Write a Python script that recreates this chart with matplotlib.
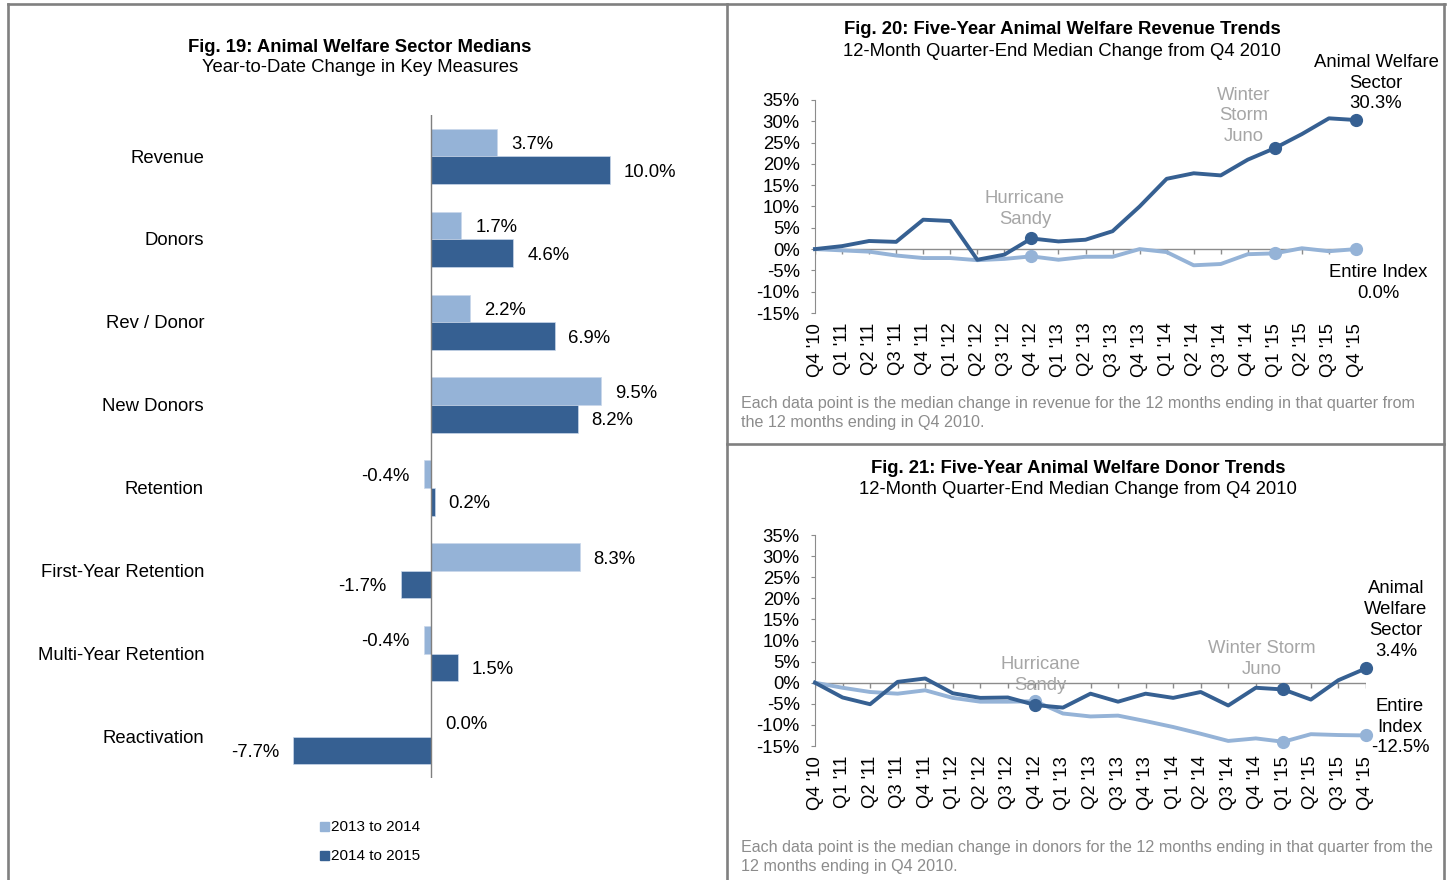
import matplotlib.pyplot as plt
from matplotlib.lines import Line2D
from matplotlib.patches import Rectangle
from matplotlib.transforms import blended_transform_factory

plt.rcParams['font.family'] = ['Liberation Sans', 'DejaVu Sans']

W, H = 1448, 880
FS = 13.3

# Fig. 19 data
measures = ['Revenue', 'Donors', 'Rev / Donor', 'New Donors', 'Retention',
            'First-Year Retention', 'Multi-Year Retention', 'Reactivation']
chg_2013_2014 = [3.7, 1.7, 2.2, 9.5, -0.4, 8.3, -0.4, 0.0]
chg_2014_2015 = [10.0, 4.6, 6.9, 8.2, 0.2, -1.7, 1.5, -7.7]
series_names = ['2013 to 2014', '2014 to 2015']

# Fig. 20 / 21 data
quarters = ["Q4 '10", "Q1 '11", "Q2 '11", "Q3 '11", "Q4 '11", "Q1 '12", "Q2 '12",
            "Q3 '12", "Q4 '12", "Q1 '13", "Q2 '13", "Q3 '13", "Q4 '13", "Q1 '14",
            "Q2 '14", "Q3 '14", "Q4 '14", "Q1 '15", "Q2 '15", "Q3 '15", "Q4 '15"]
rev_sector = [0, 0.7, 1.9, 1.7, 6.9, 6.6, -2.5, -1.3, 2.5, 1.8, 2.2, 4.2, 10.0,
              16.5, 17.8, 17.3, 21.0, 23.7, 27.0, 30.7, 30.3]
rev_index = [0, -0.3, -0.6, -1.5, -2.1, -2.1, -2.6, -2.3, -1.7, -2.5, -1.8, -1.8,
             0.0, -0.7, -3.8, -3.5, -1.2, -1.0, 0.2, -0.5, 0.0]
don_sector = [0, -3.5, -5.1, 0.2, 1.0, -2.5, -3.6, -3.5, -5.3, -5.9, -2.6, -4.5,
              -2.6, -3.6, -2.2, -5.4, -1.2, -1.6, -4.0, 0.6, 3.4]
don_index = [0, -1.2, -2.2, -2.6, -1.8, -3.6, -4.5, -4.5, -4.4, -7.3, -8.0, -7.8,
             -9.1, -10.5, -12.1, -13.8, -13.2, -14.0, -12.2, -12.4, -12.5]
marked = [8, 17, 20]   # Q4 '12, Q1 '15, Q4 '15

DARK = '#366092'
LIGHT = '#95B3D7'
GRAY_TXT = '#A6A6A6'
NOTE = '#8C8C8C'
BORDER = '#808080'


def rect(x0, y0, x1, y1):
    return [x0 / W, 1 - y1 / H, (x1 - x0) / W, (y1 - y0) / H]


def fx(x):
    return x / W


def fy(y):
    return 1 - y / H


fig = plt.figure(figsize=(W / 100, H / 100), dpi=100)

# panel borders
for xs, ys in [((8, 1445), (4, 4)), ((8, 8), (4, 880)), ((727, 727), (4, 880)),
               ((1444, 1444), (4, 880)), ((727, 1444), (444, 444))]:
    fig.add_artist(Line2D([fx(v) for v in xs], [fy(v) for v in ys],
                          color=BORDER, lw=1.9))

# ---------------- Fig. 19 ----------------
ax = fig.add_axes(rect(252, 115, 699.5, 778))
n = len(measures)
pos = list(range(n))
bh = 0.333
ax.barh([p - bh / 2 for p in pos], chg_2013_2014, height=bh, color=LIGHT,
        edgecolor='#C9D7EA', linewidth=0.5)
ax.barh([p + bh / 2 for p in pos], chg_2014_2015, height=bh, color=DARK,
        edgecolor='#C9D7EA', linewidth=0.5)
ax.set_xlim(-10, 15)
ax.set_ylim(n - 0.5, -0.5)
ax.axvline(0, color='#7F7F7F', lw=1)
ax.axis('off')

for vals, off in [(chg_2013_2014, -bh / 2), (chg_2014_2015, bh / 2)]:
    for p, v in zip(pos, vals):
        neg = v < 0
        ax.annotate(f'{v:.1f}%', (v, p + off), xytext=(-10 if neg else 10, -1.5),
                    textcoords='offset points', ha='right' if neg else 'left',
                    va='center', fontsize=FS)

lab_tr = blended_transform_factory(fig.transFigure, ax.transData)
for p, m in zip(pos, measures):
    ax.text(fx(204), p + 0.02, m, transform=lab_tr, ha='right', va='center',
            fontsize=FS)

fig.text(fx(360), fy(47), 'Fig. 19: Animal Welfare Sector Medians',
         ha='center', va='center', fontsize=FS, fontweight='bold')
fig.text(fx(360), fy(68), 'Year-to-Date Change in Key Measures',
         ha='center', va='center', fontsize=FS)

for yy, name, col in [(826, series_names[0], LIGHT), (855, series_names[1], DARK)]:
    fig.add_artist(Rectangle((fx(320), fy(yy + 4.5)), 9 / W, 9 / H,
                             transform=fig.transFigure, color=col))
    fig.text(fx(331), fy(yy + 1), name, ha='left', va='center', fontsize=11)


# ---------------- line charts ----------------
def line_chart(box, sector, index):
    a = fig.add_axes(rect(*box))
    x = list(range(len(quarters)))
    a.plot(x, index, color=LIGHT, lw=2.8, clip_on=False, zorder=3)
    a.plot(x, sector, color=DARK, lw=2.8, clip_on=False, zorder=4)
    a.plot([x[i] for i in marked], [index[i] for i in marked], 'o', color=LIGHT,
           ms=8.5, clip_on=False, zorder=3)
    a.plot([x[i] for i in marked], [sector[i] for i in marked], 'o', color=DARK,
           ms=8.5, clip_on=False, zorder=4)
    a.axhline(0, color='#8C8C8C', lw=1, zorder=1)
    a.vlines(x, -1.2, 0, color='#8C8C8C', lw=1, zorder=1)
    a.set_xlim(0, len(quarters) - 1)
    a.set_ylim(-15, 35)
    a.set_yticks(range(-15, 36, 5))
    a.set_yticklabels([f'{t}%' for t in range(-15, 36, 5)], fontsize=FS)
    a.set_xticks(x)
    a.set_xticklabels(quarters, rotation=90, fontsize=FS)
    a.tick_params(axis='x', length=0, pad=7)
    a.tick_params(axis='y', length=3, pad=8, color='#8C8C8C')
    for s in ['top', 'right', 'bottom']:
        a.spines[s].set_visible(False)
    a.spines['left'].set_color('#8C8C8C')
    a.set_facecolor('none')
    return a


LS = 1.3

line_chart((815, 100, 1356, 313), rev_sector, rev_index)
fig.text(fx(1062), fy(30), 'Fig. 20: Five-Year Animal Welfare Revenue Trends',
         ha='center', va='center', fontsize=FS, fontweight='bold')
fig.text(fx(1062), fy(51), '12-Month Quarter-End Median Change from Q4 2010',
         ha='center', va='center', fontsize=FS)
fig.text(fx(1376), fy(83), f'Animal Welfare\nSector\n{rev_sector[-1]:.1f}%',
         ha='center', va='center', fontsize=FS, linespacing=LS)
fig.text(fx(1378), fy(283), f'Entire Index\n{rev_index[-1]:.1f}%',
         ha='center', va='center', fontsize=FS, linespacing=LS)
fig.text(fx(1244), fy(116), 'Winter\nStorm\nJuno', ha='center', va='center',
         fontsize=FS, color=GRAY_TXT, linespacing=LS)
fig.text(fx(1025), fy(209), 'Hurricane\nSandy', ha='center', va='center',
         fontsize=FS, color=GRAY_TXT, linespacing=LS)
fig.text(fx(741), fy(413), 'Each data point is the median change in revenue for the '
         '12 months ending in that quarter from\nthe 12 months ending in Q4 2010.',
         ha='left', va='center', fontsize=11.6, color=NOTE, linespacing=1.3)

line_chart((815, 535, 1366, 746), don_sector, don_index)
fig.text(fx(1078), fy(468), 'Fig. 21: Five-Year Animal Welfare Donor Trends',
         ha='center', va='center', fontsize=FS, fontweight='bold')
fig.text(fx(1078), fy(489), '12-Month Quarter-End Median Change from Q4 2010',
         ha='center', va='center', fontsize=FS)
fig.text(fx(1396), fy(620), f'Animal\nWelfare\nSector\n{don_sector[-1]:.1f}%',
         ha='center', va='center', fontsize=FS, linespacing=LS)
fig.text(fx(1400), fy(727), f'Entire\nIndex\n{don_index[-1]:.1f}%',
         ha='center', va='center', fontsize=FS, linespacing=LS)
fig.text(fx(1262), fy(659), 'Winter Storm\nJuno', ha='center', va='center',
         fontsize=FS, color=GRAY_TXT, linespacing=LS)
fig.text(fx(1040), fy(675), 'Hurricane\nSandy', ha='center', va='center',
         fontsize=FS, color=GRAY_TXT, linespacing=LS)
fig.text(fx(741), fy(857), 'Each data point is the median change in donors for the '
         '12 months ending in that quarter from the\n12 months ending in Q4 2010.',
         ha='left', va='center', fontsize=11.6, color=NOTE, linespacing=1.3)

fig.savefig('out.png', dpi=100)
